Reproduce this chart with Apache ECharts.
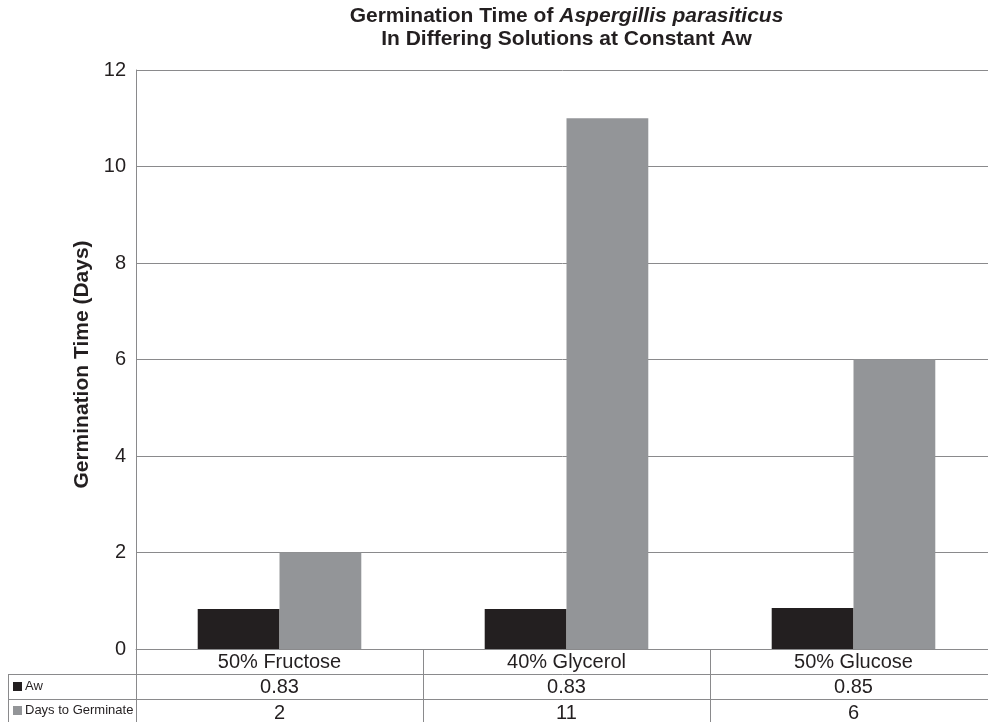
<!DOCTYPE html>
<html>
<head>
<meta charset="utf-8">
<title>Germination Time of Aspergillis parasiticus</title>
<script src="https://cdn.jsdelivr.net/npm/echarts@6/dist/echarts.min.js"></script>
<style>
  html, body { margin: 0; padding: 0; background: #fff; overflow: hidden; }
  #chart { width: 988px; height: 722px; }
</style>
</head>
<body>
<div id="chart"></div>
<script>
// Solutions tested and the two measured rows of the data table
const categories = ['50% Fructose', '40% Glycerol', '50% Glucose'];
const awValues = [0.83, 0.83, 0.85];
const daysToGerminate = [2, 11, 6];
const seriesNames = ['Aw', 'Days to Germinate'];
const yTicks = { min: 0, max: 12, interval: 2 };

// Layout of the plot and the data table under it
const W = 988, H = 722;
const GRID_LEFT = 136, GRID_WIDTH = 861, GRID_TOP = 70, GRID_BOTTOM = 73;
const ROW_H = 25;
const KEY_LEFT = 8;
const axisY = H - GRID_BOTTOM;          // baseline of the plot
const row1Y = axisY + ROW_H;            // top of the "Aw" row
const row2Y = axisY + 2 * ROW_H;        // top of the "Days" row

const INK = '#231f20';
const RULE = '#8a8a8c';
const BAR_DARK = '#231f20';
const BAR_GREY = '#939598';
const FONT = '"Liberation Sans", Arial, Helvetica, sans-serif';

function tableAxis(offset, labels, tickLen, margin) {
  return {
    type: 'category',
    gridIndex: 0,
    position: 'bottom',
    offset: offset,
    data: categories,
    boundaryGap: true,
    axisLine: { show: true, lineStyle: { color: RULE, width: 1 } },
    axisTick: { show: true, interval: 0, length: tickLen, alignWithLabel: false,
                lineStyle: { color: RULE, width: 1 } },
    axisLabel: {
      interval: 0, margin: margin, fontSize: 20, color: INK, fontFamily: FONT,
      formatter: function (v, i) { return labels ? String(labels[i]) : v; }
    },
    splitLine: { show: false }
  };
}

const chart = echarts.init(document.getElementById('chart'), null, { renderer: 'canvas' });

const plotCenterX = GRID_LEFT + GRID_WIDTH / 2;

chart.setOption({
  backgroundColor: '#ffffff',
  animation: false,
  textStyle: { fontFamily: FONT },
  title: {
    text: '{b|Germination Time of }{bi|Aspergillis parasiticus}\n{b|In Differing Solutions at Constant Aw}',
    left: plotCenterX,
    textAlign: 'center',
    top: 5,
    padding: 0,
    textStyle: {
      rich: {
        b:  { fontSize: 21, fontWeight: 'bold', color: INK, fontFamily: FONT, lineHeight: 23 },
        bi: { fontSize: 21, fontWeight: 'bold', fontStyle: 'italic', color: INK, fontFamily: FONT, lineHeight: 23 }
      }
    }
  },
  legend: [
    {
      data: [seriesNames[0]], selectedMode: false, orient: 'horizontal',
      left: KEY_LEFT + 5, top: row1Y + 6, padding: 0,
      icon: 'rect', itemWidth: 9, itemHeight: 9,
      textStyle: { fontSize: 13, color: INK, fontFamily: FONT, padding: [0, 0, 0, -2] }
    },
    {
      data: [seriesNames[1]], selectedMode: false, orient: 'horizontal',
      left: KEY_LEFT + 5, top: row2Y + 5, padding: 0,
      icon: 'rect', itemWidth: 9, itemHeight: 9,
      textStyle: { fontSize: 13, color: INK, fontFamily: FONT, padding: [0, 0, 0, -2] }
    }
  ],
  grid: {
    left: GRID_LEFT, width: GRID_WIDTH, top: GRID_TOP, bottom: GRID_BOTTOM,
    containLabel: false, outerBoundsMode: 'none'
  },
  xAxis: [
    tableAxis(0, null, ROW_H, 3),
    tableAxis(ROW_H, awValues, ROW_H, 3),
    tableAxis(2 * ROW_H, daysToGerminate, ROW_H, 4)
  ],
  yAxis: {
    type: 'value',
    min: yTicks.min, max: yTicks.max, interval: yTicks.interval,
    name: 'Germination Time (Days)',
    nameLocation: 'middle',
    nameGap: 31,
    nameTextStyle: { fontSize: 21, fontWeight: 'bold', color: INK, fontFamily: FONT, padding: [0, 10, 0, 0] },
    axisLine: { show: true, lineStyle: { color: RULE, width: 1 } },
    axisTick: { show: false },
    axisLabel: { fontSize: 20, color: INK, margin: 10, fontFamily: FONT },
    splitLine: { show: true, lineStyle: { color: RULE, width: 1 } }
  },
  series: [
    {
      name: seriesNames[0], type: 'bar', data: awValues,
      itemStyle: { color: BAR_DARK },
      barGap: '0%', barCategoryGap: '43%'
    },
    {
      name: seriesNames[1], type: 'bar', data: daysToGerminate,
      itemStyle: { color: BAR_GREY },
      barGap: '0%', barCategoryGap: '43%'
    }
  ],
  // Frame of the key column to the left of the table values
  graphic: [
    { type: 'line', silent: true, shape: { x1: KEY_LEFT, y1: row1Y + 0.5, x2: GRID_LEFT, y2: row1Y + 0.5 },
      style: { stroke: RULE, lineWidth: 1 } },
    { type: 'line', silent: true, shape: { x1: KEY_LEFT, y1: row2Y + 0.5, x2: GRID_LEFT, y2: row2Y + 0.5 },
      style: { stroke: RULE, lineWidth: 1 } },
    { type: 'line', silent: true, shape: { x1: KEY_LEFT + 0.5, y1: row1Y, x2: KEY_LEFT + 0.5, y2: H },
      style: { stroke: RULE, lineWidth: 1 } }
  ]
});
</script>
</body>
</html>
